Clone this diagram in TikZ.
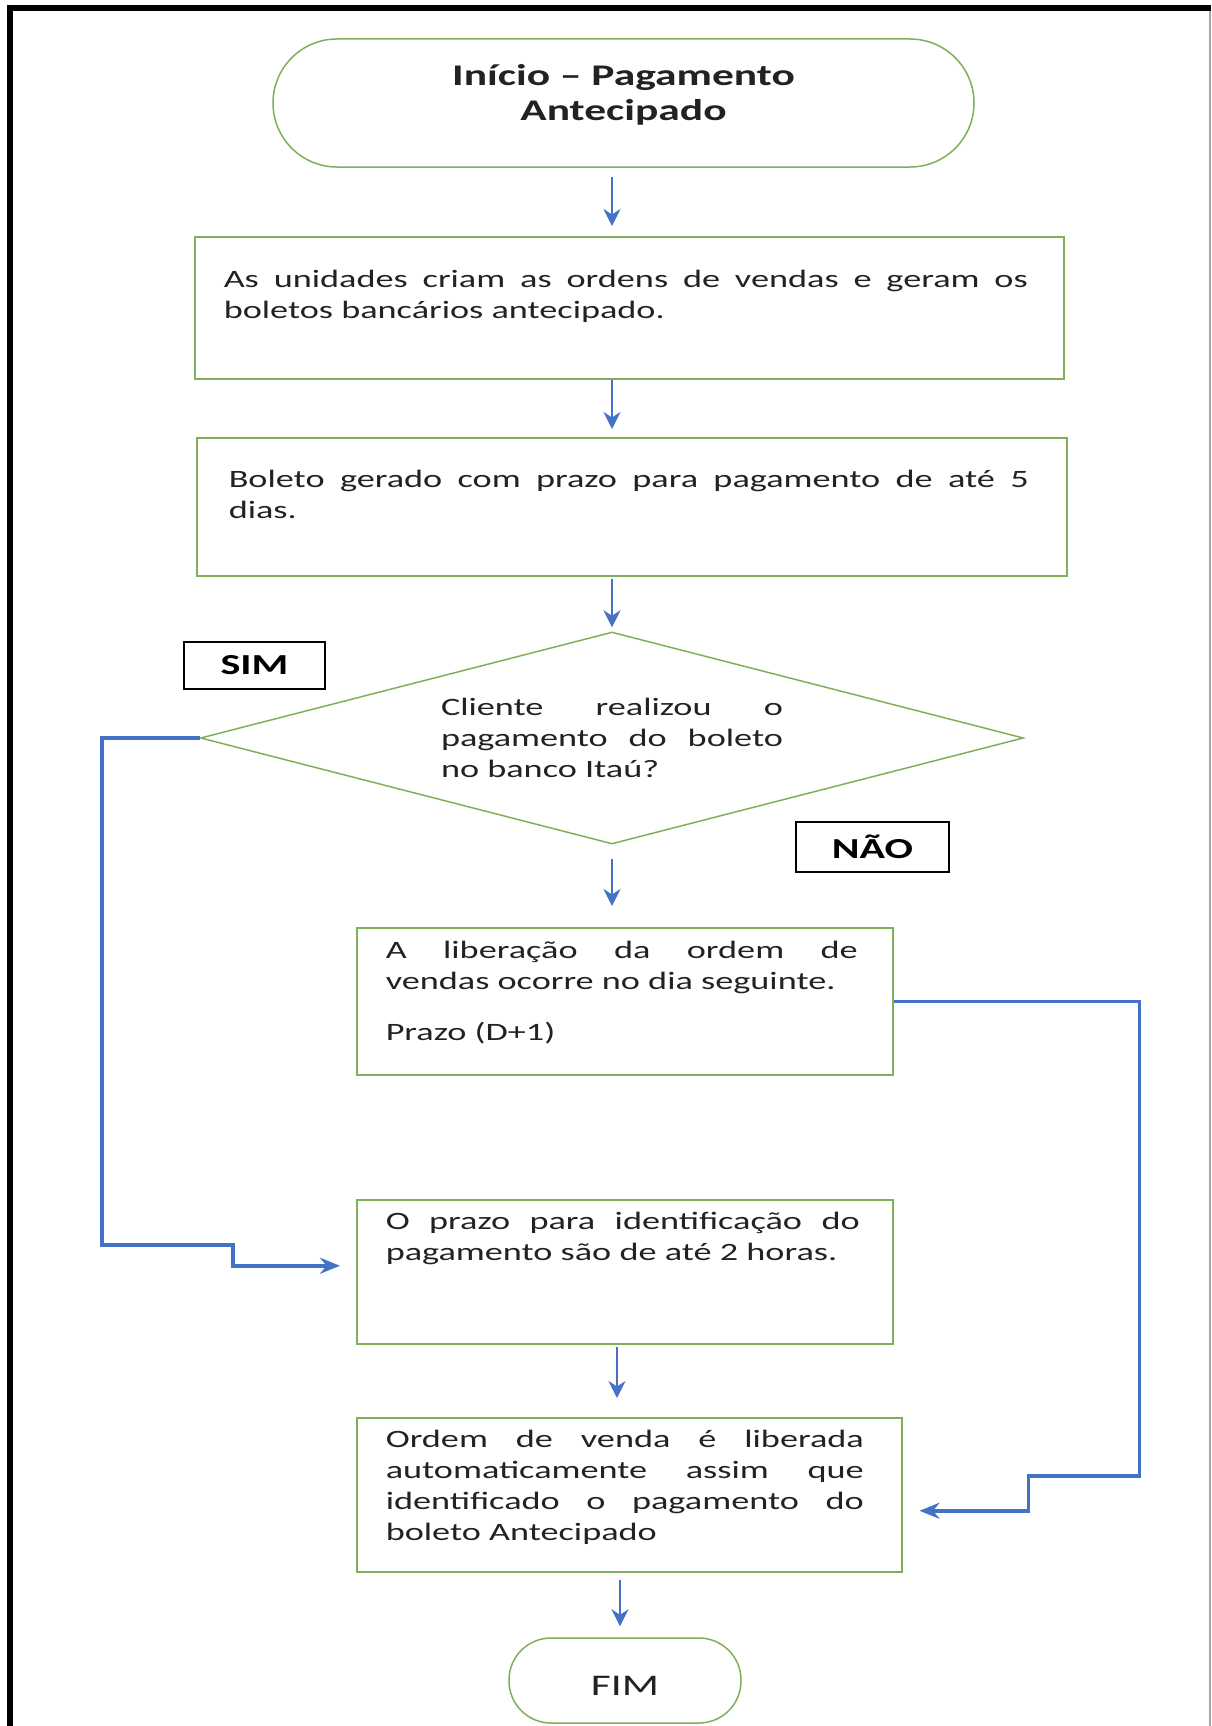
\documentclass[tikz,border=0pt]{standalone}
\usepackage{fontspec}
\setmainfont{Carlito}[FakeStretch=1.45]
\usepackage{tikz}
\usetikzlibrary{arrows.meta, calc, shapes.geometric}
\definecolor{flowblue}{HTML}{4472C4}
\definecolor{boxgreen}{HTML}{7FAF5A}
\definecolor{inkgray}{HTML}{222222}
\newcommand{\jline}[2]{\makebox[#1][s]{#2}}
\newcommand{\steptext}[3]{\parbox[c][#2][t]{#1}{\raggedright\strut #3}}

\begin{document}
\begin{tikzpicture}[x=1pt, y=-1pt, font=\fontsize{25}{31}\selectfont, text=inkgray,
    stepbox/.style={draw=boxgreen, line width=1.5pt, anchor=north west, inner xsep=29pt},
    endbox/.style={draw=boxgreen, line width=1.5pt, align=center},
    tag/.style={draw=black, line width=2pt, inner sep=0pt, text=black, font=\fontsize{29}{33}\selectfont\bfseries},
    flow/.style={-{Stealth[length=17pt, width=17pt]}, line width=2.2pt, flowblue},
    link/.style={-{Stealth[length=20pt, width=16pt]}, line width=3.5pt, flowblue}]
    \useasboundingbox (0,0) rectangle (1211,1726);

    % frame
    \draw[line width=6pt] (10,1726) -- (10,8) -- (1211,8);
    \draw[gray!70, line width=1.5pt] (1210,11) -- (1210,1726);

    \node[endbox, rounded corners=64pt, minimum width=701pt, minimum height=128pt, font=\fontsize{30}{35}\selectfont\bfseries] (start) at (623.5,103) {Início – Pagamento\\Antecipado\rule[-21pt]{0pt}{0pt}};

    \node[stepbox, inner ysep=29pt] (box1) at (194,236) {\steptext{811pt}{84pt}{\jline{804pt}{As unidades criam as ordens de vendas e geram os}\\ boletos bancários antecipado.}};

    \node[stepbox, inner xsep=32pt, inner ysep=28pt] (box2) at (196,437) {\steptext{806pt}{82pt}{\jline{800pt}{Boleto gerado com prazo para pagamento de até 5}\\ dias.}};

    \node[draw=boxgreen, line width=1.5pt, shape=diamond, shape aspect=3.88, minimum width=823pt, minimum height=212pt, inner sep=0pt] (dec) at (612,738) {\parbox{342pt}{\jline{342pt}{Cliente realizou o}\\ \jline{342pt}{pagamento do boleto}\\ no banco Itaú?}};

    \node[tag, minimum width=141pt, minimum height=47pt] (sim) at (254.5,665.5) {SIM};
    \node[tag, minimum width=153pt, minimum height=50pt] (nao) at (872.5,847) {NÃO};

    \node[stepbox, inner ysep=9pt] (box3) at (356,927) {\steptext{478pt}{129pt}{\jline{472pt}{A liberação da ordem de}\\ vendas ocorre no dia seguinte.\\[20pt] Prazo (D+1)}};

    \node[stepbox, inner ysep=8pt] (box4) at (356,1199) {\steptext{478pt}{128pt}{\jline{474pt}{O prazo para identificação do}\\ pagamento são de até 2 horas.}};

    \node[stepbox, inner ysep=8pt] (box5) at (356,1417) {\steptext{487pt}{138pt}{\jline{478pt}{Ordem de venda é liberada}\\ \jline{478pt}{automaticamente assim que}\\ \jline{478pt}{identificado o pagamento do}\\ boleto Antecipado}};

    \node[endbox, rounded corners=42pt, minimum width=232pt, minimum height=85pt, font=\fontsize{30}{35}\selectfont] (fim) at (625,1680.5) {\rule{0pt}{30pt}FIM};

    % main flow
    \draw[flow] ($(start.south -| dec.north)+(0,9)$) -- ($(box1.north -| dec.north)+(0,-10)$);
    \draw[flow] (box1.south -| dec.north) -- ($(box2.north -| dec.north)+(0,-8)$);
    \draw[flow] ($(box2.south -| dec.north)+(0,2)$) -- ($(dec.north)+(0,-4)$);
    \draw[flow] ($(dec.south)+(0,14)$) -- ($(box3.north -| dec.south)+(0,-21)$);
    \draw[flow] ($(box4.south -| dec.south)+(5,2)$) -- ($(box5.north -| dec.south)+(5,-19)$);
    \draw[flow] ($(box5.south -| dec.south)+(8,7)$) -- ($(fim.north -| dec.south)+(8,-11)$);

    % SIM and NAO branches
    \draw[link] (dec.west) -- ++(-98,0) |- ($(box4.west)+(-123,-27)$) |- ($(box4.west)+(-16,-6)$);
    \draw[link] (box3.east) -- ++(246,0) |- ($(box5.east)+(126,-19)$) |- ($(box5.east)+(17,16)$);
\end{tikzpicture}
\end{document}
